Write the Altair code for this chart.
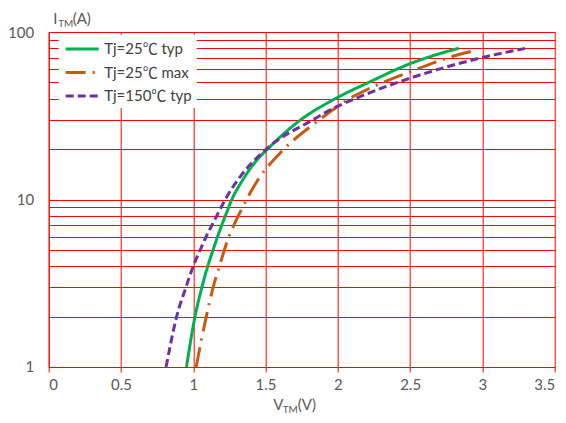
import altair as alt
import pandas as pd

series_names = ["Tj=25℃ typ", "Tj=25℃ max", "Tj=150℃ typ"]
series_colors = ["#00B050", "#C55A11", "#7030A0"]
series_dashes = [[1, 0], [20, 7, 2, 7], [8, 4]]

v_25typ = [0.953, 1.012, 1.06, 1.10, 1.137, 1.168, 1.196, 1.222, 1.267, 1.34, 1.435, 1.514, 1.745, 1.983, 2.213, 2.52, 2.71, 2.837]
i_25typ = [1, 2, 3, 4, 5, 6, 7, 8, 10, 13, 17, 20, 30, 40, 50, 65.7, 74.5, 80]

v_25max = [1.02, 1.09, 1.138, 1.181, 1.215, 1.246, 1.28, 1.318, 1.35, 1.40, 1.455, 1.60, 1.874, 2.08, 2.2, 2.502, 2.871, 2.95]
i_25max = [1, 2, 3, 4, 5, 6, 7, 8.2, 9.3, 11.2, 13.4, 18.9, 30, 40, 45.2, 58, 74.7, 77.5]

v_150typ = [0.812, 0.885, 0.95, 1.0, 1.048, 1.089, 1.128, 1.163, 1.221, 1.325, 1.505, 1.83, 1.948, 2.12, 2.5, 3.0, 3.30]
i_150typ = [1, 2, 3, 4, 5, 6, 7, 8, 10, 13.7, 20, 30, 34.3, 40, 53, 70.4, 80]

x_ticks = [0, 0.5, 1, 1.5, 2, 2.5, 3, 3.5]
y_grid = [1, 2, 3, 4, 5, 6, 7, 8, 9, 10, 20, 30, 40, 50, 60, 70, 80, 90, 100]

rows = []
for name, vs, cs in zip(series_names, [v_25typ, v_25max, v_150typ], [i_25typ, i_25max, i_150typ]):
    for k, (v, c) in enumerate(zip(vs, cs)):
        rows.append({"series": name, "V": v, "I": c, "k": k})
df = pd.DataFrame(rows)

FONT = "Lato, Noto Sans CJK SC, sans-serif"
GRAY = "#595959"

legend_cfg = dict(orient="none", legendX=10, legendY=3, title=None,
                  symbolType="M-2,0L2,0", symbolSize=272, symbolStrokeWidth=3,
                  symbolOffset=9.5,
                  labelFontSize=15, labelFont=FONT, labelColor="#404040",
                  fillColor="white", padding=4, rowPadding=5.5, labelOffset=12)

lines = alt.Chart(df).mark_line(strokeWidth=3, interpolate="monotone").encode(
    x=alt.X("V:Q", scale=alt.Scale(domain=[0, 3.5], nice=False),
            axis=alt.Axis(values=x_ticks, format="~g", title=None, grid=True,
                          gridColor="#FF0000", gridWidth=1, tickColor="#FF0000",
                          tickSize=5, domainColor="#FF0000", labelColor=GRAY,
                          labelFont=FONT, labelFontSize=15, labelPadding=6)),
    y=alt.Y("I:Q", scale=alt.Scale(type="log", domain=[1, 100], nice=False),
            axis=alt.Axis(values=y_grid, title=None, grid=True, gridColor="#FF0000",
                          gridWidth=1, tickSize=0, domainColor="#FF0000",
                          labelColor=GRAY, labelFont=FONT, labelFontSize=15,
                          labelPadding=15,
                          labelExpr="(datum.value == 1 || datum.value == 10 || datum.value == 100) ? datum.value : ''")),
    color=alt.Color("series:N", scale=alt.Scale(domain=series_names, range=series_colors),
                    legend=alt.Legend(**legend_cfg)),
    strokeDash=alt.StrokeDash("series:N", scale=alt.Scale(domain=series_names, range=series_dashes),
                              legend=alt.Legend(**legend_cfg)),
    detail="series:N",
    order="k:Q",
)

def txt(s, x, y, size):
    return alt.Chart(pd.DataFrame({"t": [s]})).mark_text(
        align="left", baseline="alphabetic", font=FONT, fontSize=size, color=GRAY
    ).encode(text="t:N", x=alt.value(x), y=alt.value(y))

title_parts = [
    txt("I", 4.6, -8, 15), txt("TM", 9.5, -5.3, 10), txt("(A)", 24, -8, 15),
    txt("V", 224.6, 378, 15), txt("TM", 234, 381, 10), txt("(V)", 249, 378, 15),
]

chart = alt.layer(lines, *title_parts).properties(
    width=506, height=335,
    autosize=alt.AutoSizeParams(type="none"),
    padding={"left": 40.7, "top": 24, "right": 3, "bottom": 48},
).configure_view(strokeOpacity=0)

chart.save("out.html", embed_options={"renderer": "svg", "actions": False})
